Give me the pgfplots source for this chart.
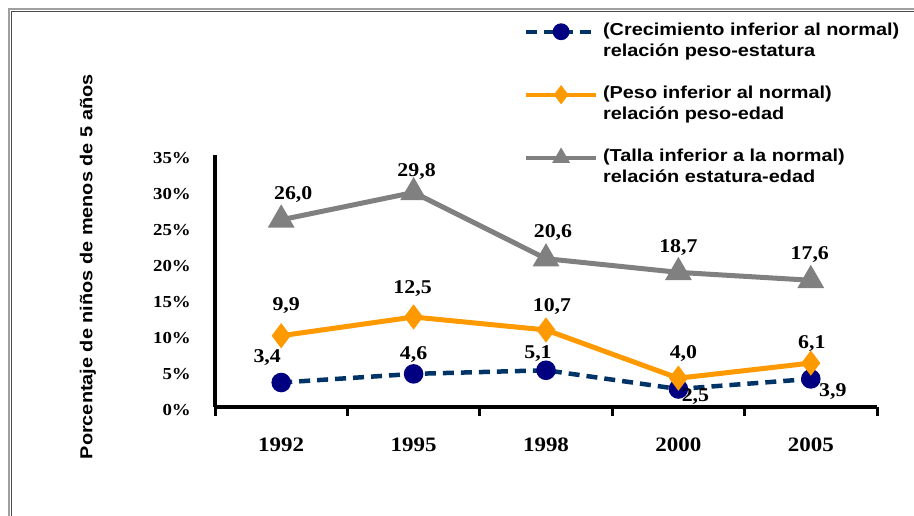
\documentclass[border=0pt]{standalone}
\usepackage{fontspec}
\usepackage{pgfplots}
\usepackage{pgfplotstable}
\pgfplotsset{compat=1.18}
\newfontfamily\ari{Liberation Sans}[FakeStretch=1.15]
\newfontfamily\tnr{Liberation Serif}[FakeStretch=1.12]
\definecolor{blueline}{HTML}{003366}
\definecolor{navymark}{HTML}{000080}
\definecolor{orangeline}{HTML}{FF9900}
\definecolor{grayline}{HTML}{808080}

\pgfplotstableread{
x y lab dx dy
0.5 3.4 3,4 -14 25
1.5 4.6 4,6 0 19
2.5 5.1 5,1 -8 17
3.5 2.5 2,5 17 -8
4.5 3.9 3,9 22 -13
}\tblue
\pgfplotstableread{
x y lab dx dy
0.5 9.9 9,9 5 30
1.5 12.5 12,5 -1 28
2.5 10.7 10,7 6 23
3.5 4.0 4,0 5 25
4.5 6.1 6,1 1 20
}\torange
\pgfplotstableread{
x y lab dx dy
0.5 26.0 26,0 12 25
1.5 29.8 29,8 3 21
2.5 20.6 20,6 7 26
3.5 18.7 18,7 0 25
4.5 17.6 17,6 -1 26
}\tgray

\begin{document}
\begin{tikzpicture}
\path[use as bounding box] (0,0) rectangle (914bp,516bp);
\draw[line width=2bp, gray!75] (9bp,0) -- (9bp,506.5bp) -- (914bp,506.5bp);
\draw[line width=0.7bp, black!70] (11.3bp,0) -- (11.3bp,504.3bp) -- (914bp,504.3bp);
\begin{axis}[
  at={(215bp,109bp)}, anchor=south west,
  scale only axis, width=662bp, height=252bp,
  xmin=0, xmax=5, ymin=0, ymax=35,
  axis x line=bottom, axis y line=left,
  axis line style={line width=3.2bp, -},
  clip=false,
  xtick={0.5,1.5,2.5,3.5,4.5},
  xticklabels={1992,1995,1998,2000,2005},
  minor xtick={0,1,2,3,4,5},
  ytick={0,5,10,15,20,25,30,35},
  yticklabels={0\%,5\%,10\%,15\%,20\%,25\%,30\%,35\%},
  major tick length=0pt,
  minor tick length=9bp,
  tick align=outside,
  minor x tick style={line width=3bp, black},
  xticklabel style={font=\tnr\bfseries\fontsize{20.5bp}{24bp}\selectfont, inner sep=0pt, anchor=north, yshift=-31bp},
  yticklabel style={font=\tnr\bfseries\fontsize{16.8bp}{20bp}\selectfont, inner sep=0pt, anchor=east, xshift=-24bp, yshift=-3bp},
  ylabel={Porcentaje de niños de menos de 5 años},
  ylabel style={font=\ari\bfseries\fontsize{17.3bp}{20bp}\selectfont, at={(axis description cs:-0.192,0.556)}, anchor=center, rotate=0},
  legend cell align=left,
  legend style={at={(axis description cs:0.4668,1.5317)}, anchor=north west, draw=none, fill=none,
    inner sep=0pt, row sep=0pt, column sep=5bp,
    font=\ari\bfseries\fontsize{17.3bp}{21bp}\selectfont,
    nodes={inner sep=0pt, text height=14bp, text depth=7bp}},
  legend image code/.code={\draw[mark repeat=2,mark phase=2,mark size=6.5bp,line width=3.8bp] plot coordinates {(0bp,0bp) (35bp,0bp) (70bp,0bp)};},
  point meta=explicit symbolic,
  nodes near coords,
  nodes near coords style={font=\tnr\bfseries\fontsize{19.5bp}{22bp}\selectfont, text=black, anchor=center, inner sep=0pt, xshift=\dx*1bp, yshift=\dy*1bp},
  visualization depends on={\thisrow{dx}\as\dx},
  visualization depends on={\thisrow{dy}\as\dy},
]
\addplot[blueline, line width=4.5bp, dash pattern=on 11bp off 7bp, mark=*, mark size=7.5bp,
  mark options={solid, fill=navymark, draw=navymark}] table[x=x, y=y, meta=lab] {\tblue};
\addlegendentry{(Crecimiento inferior al normal)}
\addlegendimage{empty legend}
\addlegendentry{relación peso-estatura}
\addlegendimage{empty legend}
\addlegendentry{\mbox{}}
\addplot[orangeline, line width=5bp, mark=diamond*, mark size=8.5bp,
  mark options={solid, fill=orangeline, draw=orangeline}] table[x=x, y=y, meta=lab] {\torange};
\addlegendentry{(Peso inferior al normal)}
\addlegendimage{empty legend}
\addlegendentry{relación peso-edad}
\addlegendimage{empty legend}
\addlegendentry{\mbox{}}
\addplot[grayline, line width=5bp, mark=triangle*, mark size=10.5bp,
  mark options={solid, fill=grayline, draw=grayline}] table[x=x, y=y, meta=lab] {\tgray};
\addlegendentry{(Talla inferior a la normal)}
\addlegendimage{empty legend}
\addlegendentry{relación estatura-edad}
\end{axis}
\end{tikzpicture}
\end{document}
